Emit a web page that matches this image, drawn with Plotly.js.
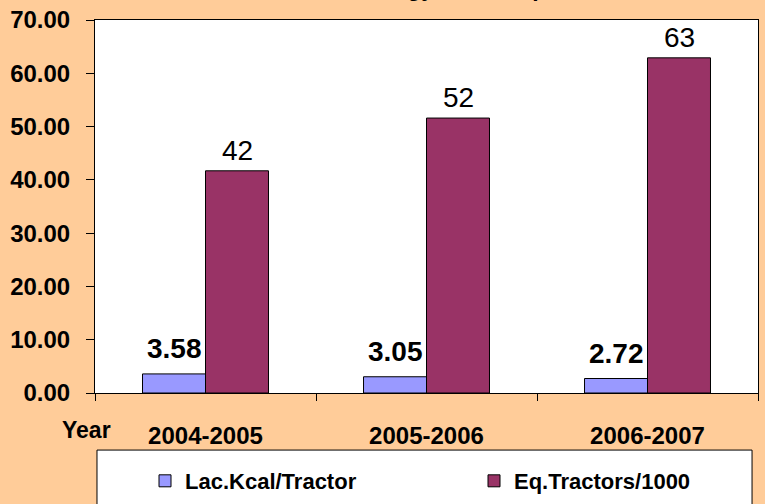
<!DOCTYPE html>
<html>
<head>
<meta charset="utf-8">
<script src="https://cdn.plot.ly/plotly-3.0.1.min.js"></script>
<style>html,body{margin:0;padding:0;background:#FFCC99;}#chart{width:765px;height:504px;}</style>
</head>
<body>
<div id="chart"></div>
<script>
const categories = ['2004-2005', '2005-2006', '2006-2007'];
const seriesNames = ['Lac.Kcal/Tractor', 'Eq.Tractors/1000'];
const lacKcalPerTractor = [3.58, 3.05, 2.72];
const eqTractorsPer1000 = [41.7, 51.6, 62.9];
const lacKcalLabels = ['3.58', '3.05', '2.72'];
const eqTractorLabels = ['42', '52', '63'];
const yTickValues = [0, 10, 20, 30, 40, 50, 60, 70];
const chartTitle = 'Energy Consumption';

const FONT = 'Liberation Sans, Arial, sans-serif';

const traces = [
  {
    type: 'bar', name: seriesNames[0], x: categories, y: lacKcalPerTractor,
    marker: {color: '#9999FF', line: {color: '#000000', width: 1}},
    offsetgroup: 'a', hoverinfo: 'skip', legend: 'legend'
  },
  {
    type: 'bar', name: seriesNames[1], x: categories, y: eqTractorsPer1000,
    marker: {color: '#993366', line: {color: '#000000', width: 1}},
    offsetgroup: 'b', hoverinfo: 'skip', legend: 'legend2'
  }
];

const annotations = [];
categories.forEach((c, i) => {
  annotations.push({
    x: c, y: lacKcalPerTractor[i], xref: 'x', yref: 'y', text: lacKcalLabels[i],
    showarrow: false, yanchor: 'bottom', xshift: -31.5, yshift: 8,
    font: {family: FONT, size: 28, color: '#000000', weight: 'bold'}
  });
  annotations.push({
    x: c, y: eqTractorsPer1000[i], xref: 'x', yref: 'y', text: eqTractorLabels[i],
    showarrow: false, yanchor: 'bottom', xshift: 31.5, yshift: 3,
    font: {family: FONT, size: 28, color: '#000000'}
  });
});
annotations.push({
  xref: 'paper', yref: 'paper', x: 0.027, y: -0.099, xanchor: 'right', yanchor: 'middle',
  text: '<b>Year</b>', showarrow: false,
  font: {family: FONT, size: 23, color: '#000000'}
});
annotations.push({
  xref: 'paper', yref: 'paper', x: (472 - 95) / 663, y: 1, xanchor: 'center', yanchor: 'bottom',
  yshift: 16.5, text: '<b>' + chartTitle + '</b>', showarrow: false,
  font: {family: FONT, size: 23, color: '#000000'}
});

const legendFont = {family: FONT, size: 22, color: '#000000', weight: 'bold'};
const layout = {
  width: 765, height: 504,
  paper_bgcolor: '#FFCC99', plot_bgcolor: '#FFFFFF',
  margin: {l: 95, r: 7, t: 20, b: 111, autoexpand: false},
  barmode: 'group', bargap: 0.43, bargroupgap: 0,
  showlegend: true,
  legend: {
    x: (145 - 95) / 663, xanchor: 'left', y: -0.236, yanchor: 'middle',
    bgcolor: 'rgba(0,0,0,0)', borderwidth: 0, itemwidth: 30, font: legendFont
  },
  legend2: {
    x: (474 - 95) / 663, xanchor: 'left', y: -0.236, yanchor: 'middle',
    bgcolor: 'rgba(0,0,0,0)', borderwidth: 0, itemwidth: 30, font: legendFont
  },
  xaxis: {
    type: 'category', showline: true, linecolor: '#000000', linewidth: 1, mirror: true,
    ticks: 'outside', tickson: 'boundaries', ticklen: 7, tickcolor: '#000000',
    ticklabelstandoff: 21,
    tickfont: {family: FONT, size: 24, color: '#000000', weight: 'bold'},
    showgrid: false, zeroline: false, fixedrange: true
  },
  yaxis: {
    range: [0, 70], tickvals: yTickValues, tickformat: '.2f',
    showline: true, linecolor: '#000000', linewidth: 1, mirror: true,
    ticks: 'outside', ticklen: 8, tickcolor: '#000000',
    ticklabelstandoff: 11,
    tickfont: {family: FONT, size: 24, color: '#000000', weight: 'bold'},
    showgrid: false, zeroline: false, fixedrange: true
  },
  shapes: [{
    type: 'rect', xref: 'paper', yref: 'paper', x0: 0.003, x1: 0.991, y0: -0.153, y1: -0.40,
    line: {color: '#000000', width: 1}, fillcolor: '#FFFFFF', layer: 'below'
  }],
  annotations: annotations
};

Plotly.newPlot('chart', traces, layout, {displayModeBar: false, staticPlot: true});
</script>
</body>
</html>
